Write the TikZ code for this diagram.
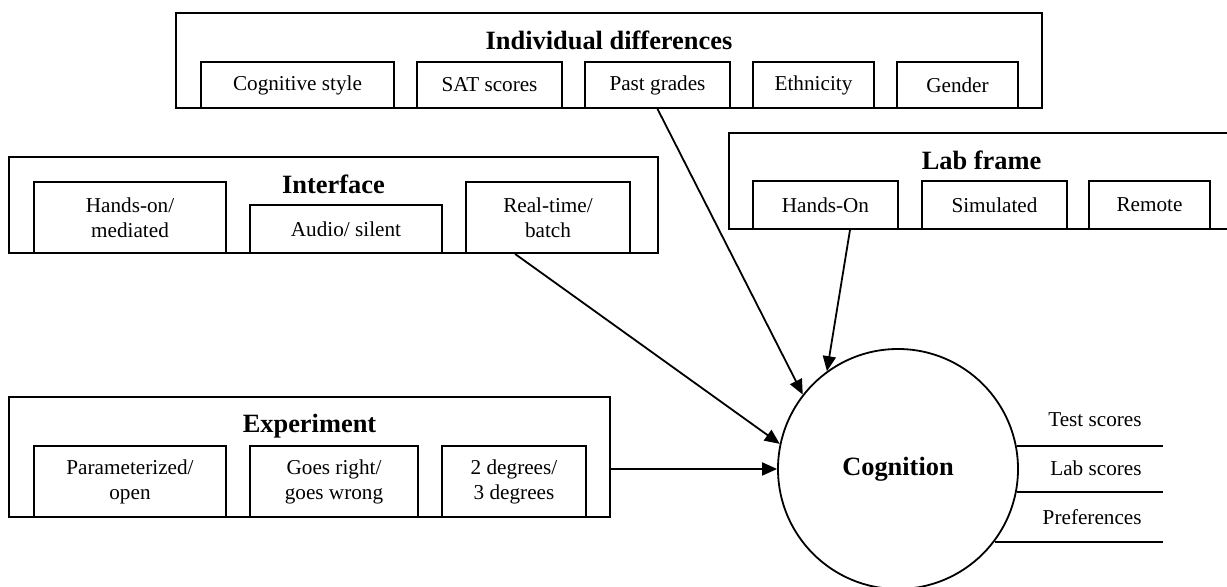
\documentclass[tikz,border=0pt]{standalone}
\usepackage{fontspec}
\setmainfont{Liberation Serif}
\usetikzlibrary{arrows.meta}
\begin{document}
\begin{tikzpicture}[x=0.5pt,y=-0.5pt,
  every node/.style={font=\fontsize{10.6}{12.5}\selectfont},
  frame/.style 2 args={draw, line width=0.9pt, inner sep=0pt,
    minimum width=#1*0.5pt, minimum height=#2*0.5pt},
  item/.style 2 args={draw, line width=0.9pt, inner sep=0pt, align=center,
    minimum width=#1*0.5pt, minimum height=#2*0.5pt},
  heading/.style={anchor=base, inner sep=0pt,
    font=\fontsize{13.2}{15}\selectfont\bfseries},
  outcome/.style={anchor=base east, inner sep=0pt},
  link/.style={line width=0.9pt, -{Triangle[length=7.5pt,width=6.5pt]}},
  rule/.style={line width=0.9pt}]
\useasboundingbox (0,0) rectangle (1227,587);

% Individual differences
\node[frame={866}{95}] (idf) at (609,60.5) {};
\node[heading] (idt) at (609,50) {Individual differences};
\node[item={193}{46}] (cs) at (297.5,85) {Cognitive style};
\node[item={145}{46}] (sat) at (489.5,85) {SAT scores};
\node[item={145}{46}] (pg) at (657.5,85) {Past grades};
\node[item={121}{46}] (eth) at (813.5,85) {Ethnicity};
\node[item={121}{46}] (gen) at (957.5,85) {Gender};

% Interface
\node[frame={649}{96}] (iff) at (333.5,205) {};
\node[heading] (ift) at (333.5,194) {Interface};
\node[item={192}{71}] (ho) at (130,217.5) {Hands-on/\\mediated};
\node[item={192}{48}] (au) at (346,229) {Audio/ silent};
\node[item={164}{71}] (rt) at (548,217.5) {Real-time/\\batch};

% Lab frame
\node[frame={505}{96}] (lbf) at (981.5,181) {};
\node[heading] (lbt) at (981.5,170) {Lab frame};
\node[item={145}{48}] (hon) at (825.5,205) {Hands-On};
\node[item={145}{48}] (sim) at (994.5,205) {Simulated};
\node[item={121}{48}] (rem) at (1149.5,205) {Remote};

% Experiment
\node[frame={601}{120}] (exf) at (309.5,457) {};
\node[heading] (ext) at (309.5,433) {Experiment};
\node[item={192}{71}] (par) at (130,481.5) {Parameterized/\\open};
\node[item={168}{71}] (gr) at (334,481.5) {Goes right/\\goes wrong};
\node[item={144}{71}] (deg) at (514,481.5) {2 degrees/\\3 degrees};

% Cognition
\node[draw, circle, line width=0.9pt, inner sep=0pt, minimum size=120pt,
  font=\fontsize{13.2}{15}\selectfont\bfseries] (cog) at (898,469) {Cognition};

% influences
\draw[link] ([xshift=-16.5pt]rt.south) -- (cog.168.5);
\draw[link] (pg.south) -- (cog.142.6);
\draw[link] ([xshift=12.25pt]hon.south) -- (cog.126.2);
\draw[link] (exf.east |- cog.west) -- (cog.west);

% outcomes
\coordinate (oend) at (1163,469);
\draw[rule] (cog.11.5) -- (cog.11.5 -| oend);
\draw[rule] (cog.-11.5) -- (cog.-11.5 -| oend);
\draw[rule] (cog.-37.5) -- (cog.-37.5 -| oend);
\node[outcome] (ts) at (1142,427) {Test scores};
\node[outcome] (ls) at (1142,476) {Lab scores};
\node[outcome] (pr) at (1142,525) {Preferences};
\end{tikzpicture}
\end{document}
